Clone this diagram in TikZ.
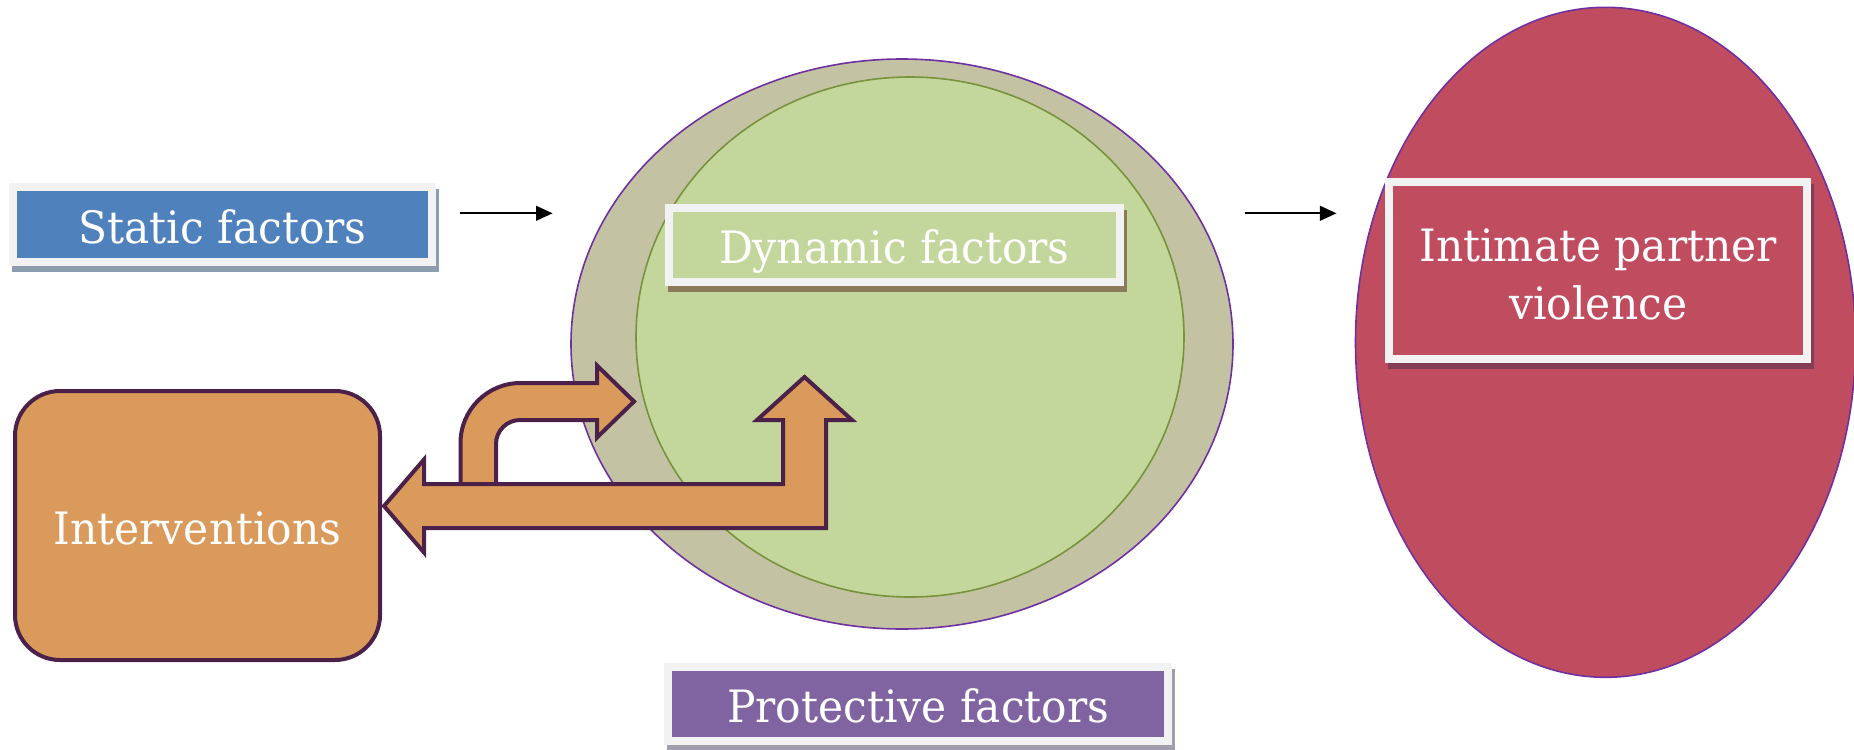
\documentclass[tikz,border=0pt]{standalone}
\usepackage{fontspec}
\setmainfont{DejaVu Serif}[FakeStretch=0.95]
\usetikzlibrary{shapes.geometric,arrows.meta}

\definecolor{staticblue}{HTML}{4F81BD}
\definecolor{staticshade}{HTML}{8E9CB0}
\definecolor{dyngreen}{HTML}{C3D69B}
\definecolor{dynshade}{HTML}{8C7B5B}
\definecolor{ipvred}{HTML}{C04D5F}
\definecolor{ipvshade}{HTML}{843D55}
\definecolor{protpurple}{HTML}{8064A2}
\definecolor{protshade}{HTML}{A19DAA}
\definecolor{framegray}{HTML}{F2F2F2}
\definecolor{ringfill}{HTML}{C3C3A3}
\definecolor{ringline}{HTML}{7030A0}
\definecolor{coreline}{HTML}{77933C}
\definecolor{fatorange}{HTML}{D99A5B}
\definecolor{fatline}{HTML}{4B2049}

\newcommand\diagfont{\fontsize{22.3pt}{29pt}\selectfont}

\begin{document}
\begin{tikzpicture}[x=0.5pt,y=-0.5pt,
  labelbox/.style 2 args={rectangle, fill=#1, draw=framegray, line width=4pt,
    inner sep=0pt, text=white, align=center, font=\diagfont,
    preaction={fill=#2, draw=#2, line width=4pt,
      transform canvas={xshift=1.5pt, yshift=-3pt}}},
  oneline/.style={text height=18.6pt, text depth=0pt},
  blob/.style={ellipse, inner sep=0pt, line width=0.8pt},
  flow/.style={line width=1pt, -{Triangle[length=8.3pt,width=7.4pt]}},
  fatarrow/.style={fill=fatorange, draw=fatline, line width=2pt, line join=miter},
  actionbox/.style={rectangle, rounded corners=22.5pt, fill=fatorange,
    draw=fatline, line width=2pt, inner sep=0pt, text=white, font=\diagfont}
]
\useasboundingbox (0,0) rectangle (1854,750);

% static factors and its arrow
\node[labelbox={staticblue}{staticshade}, oneline,
  minimum width=209.5pt, minimum height=37.5pt] (static) at (222.5,224.5) {Static factors};
\coordinate (s1) at (460,213.3);
\coordinate (e1) at (552.6,213.3);
\draw[flow] (s1) -- (e1);

% protective ring with the dynamic core
\node[blob, draw=ringline, fill=ringfill, minimum width=331pt, minimum height=285pt] (ring) at (902,344) {};
\node[blob, draw=coreline, fill=dyngreen, minimum width=274pt, minimum height=260pt] (core) at (910,337) {};
\node[labelbox={dyngreen}{dynshade}, oneline,
  minimum width=225.75pt, minimum height=37pt] (dynamic) at (894.3,244.7) {Dynamic factors};

% outcome
\coordinate (s2) at (1244.7,213.3);
\coordinate (e2) at (1336.5,213.3);
\draw[flow] (s2) -- (e2);
\node[blob, draw=ringline, fill=ipvred, minimum width=250pt, minimum height=335pt] (outcome) at (1605.5,342.3) {};
\node[labelbox={ipvred}{ipvshade},
  minimum width=209.25pt, minimum height=88.2pt] (ipv) at (1598.2,270.5)
  {\rule{0pt}{20.4pt}Intimate partner\\violence};

% protective factors label
\node[labelbox={protpurple}{protshade}, oneline,
  minimum width=249.75pt, minimum height=36.85pt] (protective) at (918.2,704.2) {Protective factors};

% interventions and the block arrows
\node[actionbox, oneline, minimum width=182.5pt, minimum height=134.5pt] (interventions) at (197.5,525.5) {Interventions};

\draw[fatarrow] (460.5,484) -- (460.5,443) arc[start angle=180,end angle=90,radius=30pt]
  -- (597,383) -- (597,365.5) -- (634,401.5) -- (597,437.5) -- (597,420) -- (520,420)
  arc[start angle=90,end angle=180,radius=12pt] -- (496,484) -- cycle;

\draw[fatarrow] (384,506) -- (424,459.5) -- (424,484) -- (783,484) -- (783,420)
  -- (757,420) -- (804.5,377) -- (852,420) -- (826,420) -- (826,528) -- (424,528)
  -- (424,552.5) -- cycle;
\end{tikzpicture}
\end{document}
